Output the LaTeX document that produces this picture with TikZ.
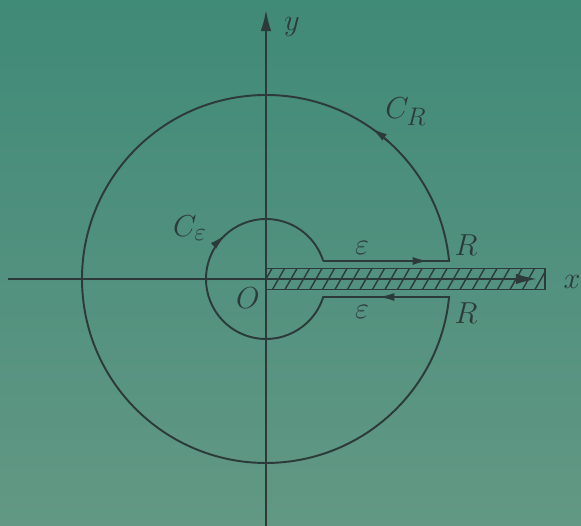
\documentclass[tikz,border=0pt]{standalone}
\usepackage{tikz}
\usetikzlibrary{arrows.meta}
\tikzset{>={Latex[length=9pt,width=4.5pt]}}
\definecolor{bgtop}{RGB}{64,138,120}
\definecolor{bgbot}{RGB}{98,152,132}
\definecolor{ink}{RGB}{45,58,58}
\tikzset{lab/.style={text=ink,font=\fontsize{19}{22}\selectfont},
  axisarr/.style={-{Latex[length=12pt,width=6pt]}}}
\begin{document}
\begin{tikzpicture}[line width=1.1pt]
\shade[top color=bgtop,bottom color=bgbot] (-5.32,-4.94) rectangle (6.3,5.58);
\useasboundingbox (-5.32,-4.94) rectangle (6.3,5.58);
\begin{scope}[draw=ink,fill=ink]
% hatched cut along the positive x-axis
\begin{scope}
\clip (0,-0.21) rectangle (5.58,0.21);
\foreach \i in {0,0.25,...,5.9} \draw[line width=0.8pt] (\i-0.12,-0.21) -- (\i+0.12,0.21);
\end{scope}
\draw (0,-0.21) rectangle (5.58,0.21);
% axes
\draw [axisarr] (-5.16,0) -- (5.42,0);
\draw [axisarr] (0,-4.94) -- (0,5.38);
% keyhole contour
\draw (17.46:1.2) -- (5.61:3.68) arc[start angle=5.61,end angle=354.39,radius=3.68] -- (-17.46:1.2) arc[start angle=-17.46,end angle=-342.54,radius=1.2];
\draw [->] (2.6,0.36) -- (3.25,0.36);
\draw [->] (2.9,-0.36) -- (2.25,-0.36);
\draw [->] (48:3.68) arc[start angle=48,end angle=55,radius=3.68];
\draw [->] (145:1.2) arc[start angle=145,end angle=133,radius=1.2];
\end{scope}
\node [lab] (ylab) at (0.52,5.04) {$y$};
\node [lab] (xlab) at (6.12,-0.06) {$x$};
\node [lab] (cr) at (2.8,3.34) {$C_R$};
\node [lab] (ceps) at (-1.52,1.02) {$C_\varepsilon$};
\node [lab] (epsup) at (1.92,0.62) {$\varepsilon$};
\node [lab] (epsdn) at (1.92,-0.66) {$\varepsilon$};
\node [lab] (rup) at (4.0,0.68) {$R$};
\node [lab] (rdn) at (4.0,-0.68) {$R$};
\node [lab] (orig) at (-0.36,-0.38) {$O$};
\end{tikzpicture}
\end{document}
